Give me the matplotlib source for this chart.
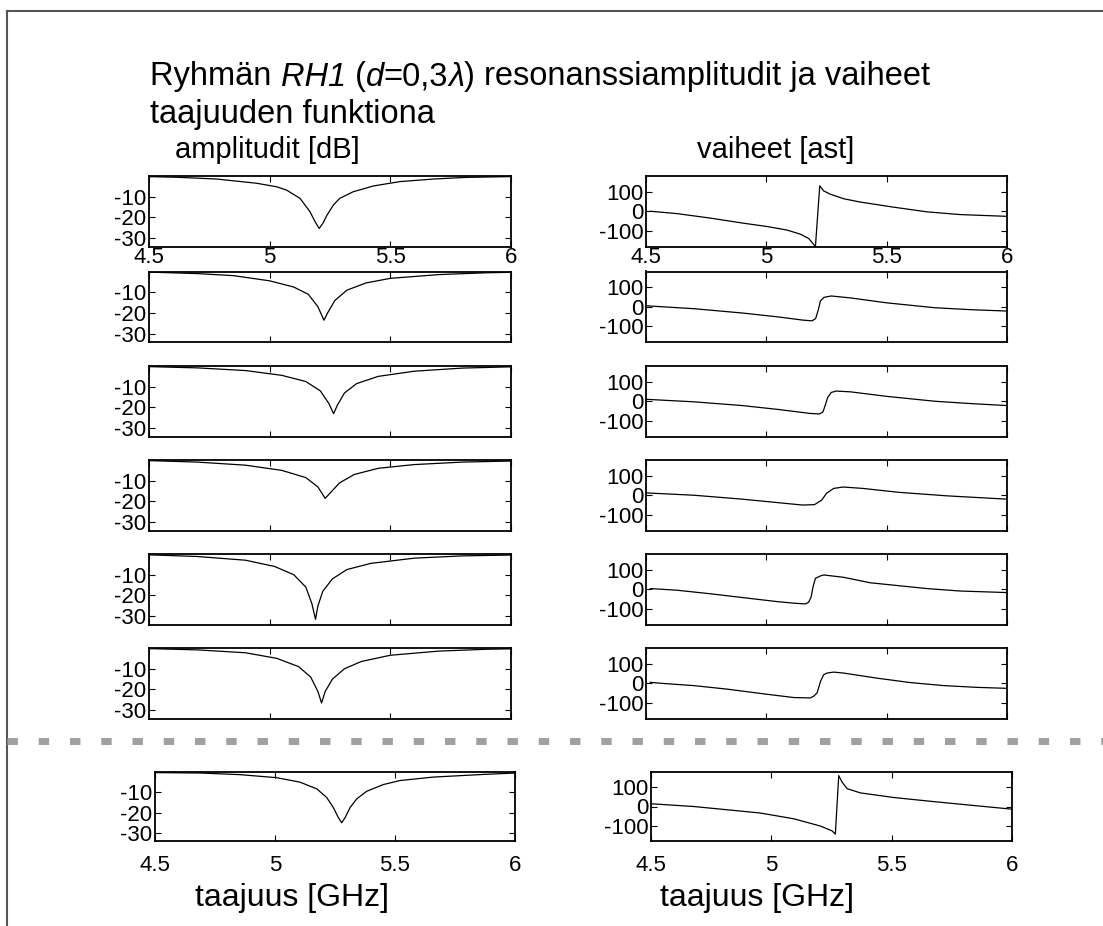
"""
Resonance amplitudes and phases of group RH1 (d=0.3 lambda) vs. frequency.

Six element rows plus the summed response below the dashed separator.
"""

import matplotlib
matplotlib.use("Agg")
import matplotlib.pyplot as plt
from matplotlib.lines import Line2D

plt.rcParams["font.family"] = ["Liberation Sans", "DejaVu Sans"]
plt.rcParams["axes.unicode_minus"] = False

# title pieces: (text, italic?)
TITLE_LINE1 = [("Ryhmän ", False), ("RH1", True), (" (", False), ("d", True),
               ("=0,3", False), ("λ", True), (") resonanssiamplitudit ja vaiheet", False)]
TITLE_LINE2 = "taajuuden funktiona"
AMP_HEADER = "amplitudit [dB]"
PHASE_HEADER = "vaiheet [ast]"
XLABEL = "taajuus [GHz]"

X_TICKS = [4.5, 5, 5.5, 6]
X_TICKLABELS = ["4.5", "5", "5.5", "6"]
AMP_TICKS = [-10, -20, -30]
PHASE_TICKS = [100, 0, -100]

# amplitude curves [dB], one (freq, value) pair per row
amp1_f = [4.5, 4.613, 4.78, 4.946, 5.029, 5.07, 5.126, 5.167, 5.188, 5.205, 5.22, 5.237, 5.264, 5.29, 5.346, 5.43, 5.54, 5.68, 5.817, 6.0]
amp1_v = [-0.3, -0.6, -1.45, -3.5, -5.2, -6.8, -10.8, -17.2, -22.0, -25.3, -22.9, -19.0, -14.0, -10.8, -7.6, -4.8, -2.7, -1.45, -0.65, -0.3]
amp2_f = [4.5, 4.7, 4.85, 5.0, 5.1, 5.16, 5.2, 5.225, 5.24, 5.27, 5.32, 5.4, 5.5, 5.7, 5.9, 6.0]
amp2_v = [-0.3, -1.0, -2.0, -4.5, -7.5, -11.0, -17.0, -23.5, -20.0, -14.0, -9.0, -5.5, -3.3, -1.5, -0.6, -0.4]
amp3_f = [4.5, 4.7, 4.9, 5.05, 5.15, 5.21, 5.245, 5.265, 5.28, 5.31, 5.36, 5.45, 5.6, 5.8, 6.0]
amp3_v = [-0.3, -0.9, -2.2, -4.5, -7.5, -12.0, -18.0, -23.0, -19.0, -13.0, -8.5, -5.0, -2.5, -1.0, -0.4]
amp4_f = [4.5, 4.7, 4.9, 5.05, 5.15, 5.2, 5.23, 5.25, 5.29, 5.35, 5.45, 5.6, 5.8, 6.0]
amp4_v = [-0.3, -1.0, -2.5, -5.0, -8.5, -13.0, -18.5, -16.0, -11.0, -7.0, -4.0, -2.2, -1.0, -0.5]
amp5_f = [4.5, 4.7, 4.9, 5.02, 5.1, 5.15, 5.175, 5.19, 5.2, 5.22, 5.26, 5.32, 5.42, 5.6, 5.8, 6.0]
amp5_v = [-0.4, -1.2, -3.0, -6.0, -10.0, -16.0, -24.0, -31.5, -25.0, -18.0, -12.0, -7.5, -4.5, -2.0, -0.9, -0.5]
amp6_f = [4.5, 4.7, 4.9, 5.03, 5.12, 5.17, 5.2, 5.215, 5.23, 5.26, 5.31, 5.38, 5.5, 5.7, 5.9, 6.0]
amp6_v = [-0.3, -0.9, -2.3, -5.0, -9.0, -14.0, -21.0, -26.5, -21.0, -15.0, -10.0, -6.5, -3.5, -1.5, -0.6, -0.4]
ampS_f = [4.5, 4.688, 4.854, 5.007, 5.104, 5.174, 5.215, 5.243, 5.264, 5.278, 5.292, 5.313, 5.34, 5.382, 5.451, 5.521, 5.66, 5.868, 6.0]
ampS_v = [-0.3, -0.5, -1.3, -2.8, -5.0, -8.3, -12.5, -17.5, -22.5, -25.0, -22.5, -17.5, -13.3, -9.5, -6.2, -4.2, -2.5, -1.2, -0.5]

# phase curves [deg]
ph1_f = [4.518, 4.629, 4.767, 4.905, 5.003, 5.086, 5.141, 5.176, 5.194, 5.204, 5.222, 5.238, 5.266, 5.321, 5.39, 5.528, 5.667, 5.805, 6.0]
ph1_v = [0, -12, -35, -61, -78, -96, -117, -139, -165, -180, 130, 104, 87, 64, 47, 21, -3, -17, -26]
ph2_f = [4.5, 4.7, 4.9, 5.05, 5.15, 5.19, 5.205, 5.215, 5.225, 5.24, 5.27, 5.35, 5.5, 5.7, 5.85, 6.0]
ph2_v = [5, -10, -32, -52, -68, -72, -60, -20, 30, 48, 55, 45, 20, -5, -15, -22]
ph3_f = [4.5, 4.7, 4.9, 5.05, 5.18, 5.22, 5.235, 5.245, 5.255, 5.27, 5.29, 5.35, 5.5, 5.7, 5.85, 6.0]
ph3_v = [10, -3, -22, -42, -62, -65, -55, -20, 20, 45, 52, 48, 25, 0, -12, -22]
ph4_f = [4.5, 4.7, 4.9, 5.05, 5.15, 5.2, 5.23, 5.25, 5.28, 5.32, 5.4, 5.55, 5.75, 6.0]
ph4_v = [12, 0, -20, -38, -50, -48, -25, 10, 35, 42, 35, 15, -3, -20]
ph5_f = [4.518, 4.629, 4.767, 4.905, 5.044, 5.113, 5.162, 5.176, 5.186, 5.194, 5.204, 5.225, 5.238, 5.321, 5.432, 5.528, 5.667, 5.805, 6.0]
ph5_v = [3.5, -5, -23, -43, -63, -71, -75, -66, -40, 12, 56, 68, 73, 61, 33, 21, 3.5, -9, -17]
ph6_f = [4.518, 4.56, 4.698, 4.837, 4.975, 5.114, 5.183, 5.197, 5.211, 5.225, 5.238, 5.252, 5.28, 5.321, 5.46, 5.598, 5.737, 5.875, 6.0]
ph6_v = [5, 0, -12, -30, -52, -73, -75, -66, -49, 9, 43, 52, 57, 52, 26, 3.5, -12, -21, -26]
phS_f = [4.504, 4.677, 4.816, 4.954, 5.093, 5.204, 5.252, 5.266, 5.28, 5.294, 5.315, 5.37, 5.508, 5.647, 5.785, 6.0]
phS_v = [14, 0, -17, -34, -64, -102, -127, -144, 161, 127, 93, 71, 47, 29, 12, -14]

AMP_ROWS = [(amp1_f, amp1_v), (amp2_f, amp2_v), (amp3_f, amp3_v),
            (amp4_f, amp4_v), (amp5_f, amp5_v), (amp6_f, amp6_v)]
PHASE_ROWS = [(ph1_f, ph1_v), (ph2_f, ph2_v), (ph3_f, ph3_v),
              (ph4_f, ph4_v), (ph5_f, ph5_v), (ph6_f, ph6_v)]

W, H = 1103, 926
TICK_FS = 16
HEAD_FS = 21
XLAB_FS = 23
TITLE_FS = 23.5


def px_axes(fig, x0, y0, x1, y1):
    return fig.add_axes([x0 / W, 1 - y1 / H, (x1 - x0) / W, (y1 - y0) / H])


def style(ax, kind, xlabels, pad):
    ax.set_xlim(4.5, 6)
    if kind == "amp":
        ax.set_ylim(-34, 0)
        ax.set_yticks(AMP_TICKS)
    else:
        ax.set_ylim(-180, 180)
        ax.set_yticks(PHASE_TICKS)
    ax.set_xticks(X_TICKS)
    ax.set_xticklabels(X_TICKLABELS if xlabels else [])
    ax.tick_params(direction="in", length=4, width=0.8, top=True, right=True,
                   labelsize=TICK_FS, pad=2)
    ax.tick_params(axis="x", pad=pad)
    for s in ax.spines.values():
        s.set_linewidth(1.3)


fig = plt.figure(figsize=(W / 100, H / 100), dpi=100)

row_tops = [176, 271.5, 366, 460, 554, 648]
row_h = 70.5
for i, top in enumerate(row_tops):
    ax = px_axes(fig, 149, top, 511, top + row_h)
    ax.plot(*AMP_ROWS[i], color="black", lw=0.9)
    style(ax, "amp", i == 0, 0.5)
    ax = px_axes(fig, 646, top, 1007, top + row_h)
    ax.plot(*PHASE_ROWS[i], color="black", lw=0.9)
    style(ax, "phase", i == 0, 0.5)

ax = px_axes(fig, 155, 772, 515, 841)
ax.plot(ampS_f, ampS_v, color="black", lw=0.9)
style(ax, "amp", True, 10)
ax = px_axes(fig, 651, 772, 1012, 841)
ax.plot(phS_f, phS_v, color="black", lw=0.9)
style(ax, "phase", True, 10)

# title with mixed italic pieces, laid out left to right
renderer = fig.canvas.get_renderer()
x = 150 / W
for s, it in TITLE_LINE1:
    t = fig.text(x, 1 - 77 / H, s, fontsize=TITLE_FS, ha="left", va="center",
                 style="italic" if it else "normal")
    x += t.get_window_extent(renderer).width / W
fig.text(150 / W, 1 - 114 / H, TITLE_LINE2, fontsize=TITLE_FS, ha="left", va="center")

fig.text(175 / W, 1 - 150 / H, AMP_HEADER, fontsize=HEAD_FS, ha="left", va="center")
fig.text(697 / W, 1 - 150 / H, PHASE_HEADER, fontsize=HEAD_FS, ha="left", va="center")
fig.text(195 / W, 1 - 898 / H, XLABEL, fontsize=XLAB_FS, ha="left", va="center")
fig.text(660 / W, 1 - 898 / H, XLABEL, fontsize=XLAB_FS, ha="left", va="center")

# slide frame and dashed separator
fig.add_artist(Line2D([7 / W, 1], [1 - 11 / H, 1 - 11 / H], color="#555555", lw=1.5))
fig.add_artist(Line2D([7 / W, 7 / W], [0, 1 - 11 / H], color="#555555", lw=1.5))
fig.add_artist(Line2D([7 / W, 1], [1 - 741 / H, 1 - 741 / H], color="#a0a0a0",
                      lw=5, linestyle=(0, (1.5, 3.0))))

fig.savefig("out.png", dpi=100)
